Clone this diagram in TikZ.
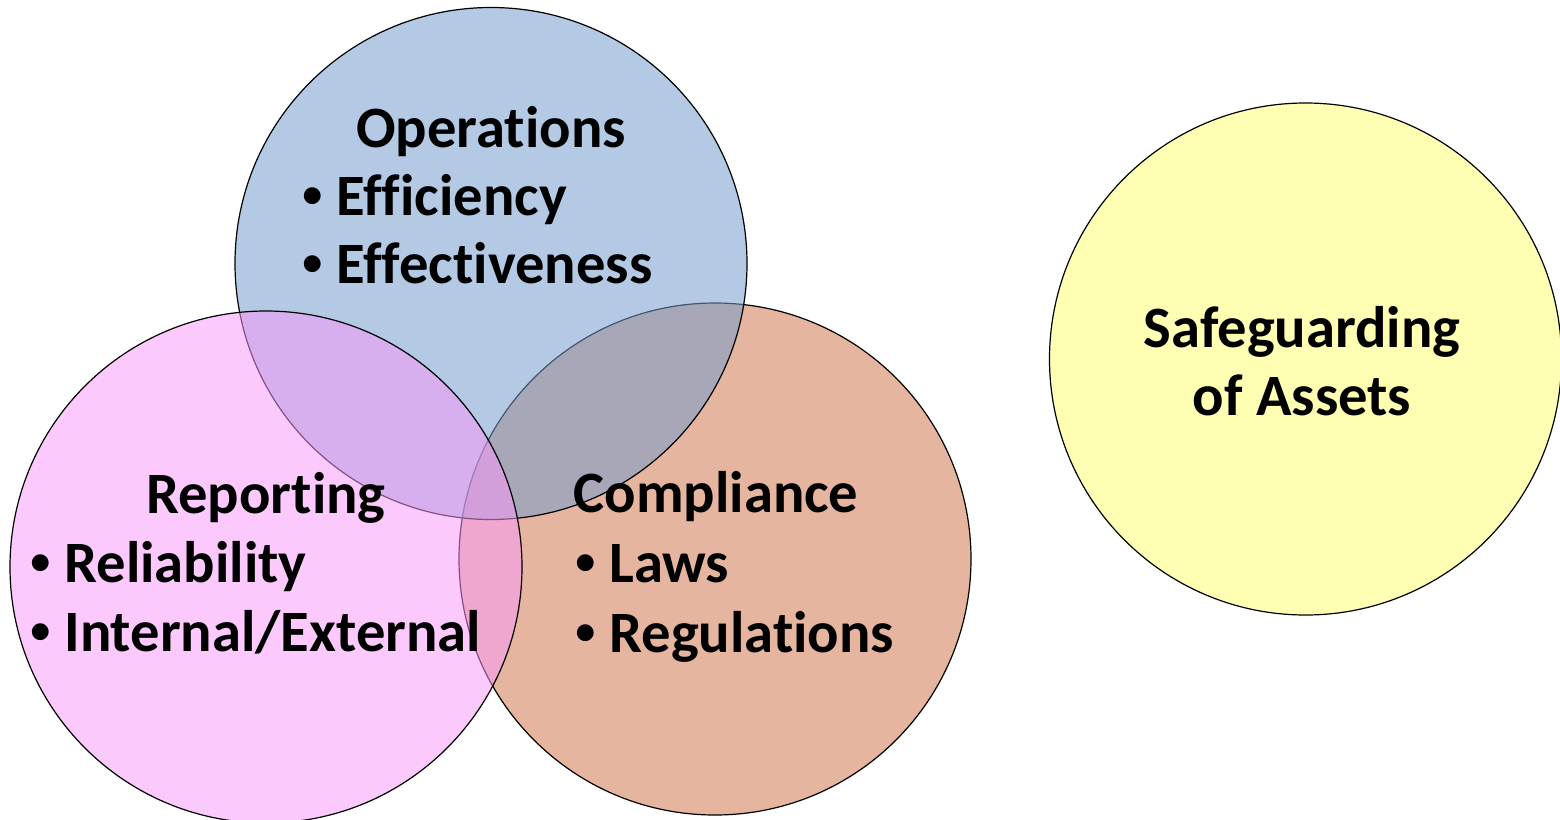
\documentclass[tikz,border=0pt]{standalone}
\usepackage{fontspec}
\setmainfont{Carlito}[Ligatures=NoCommon]
\newfontfamily\bulletfont{Liberation Sans}
\begin{document}
% one unit = one pixel of a 1560 x 820 canvas, y pointing down
\begin{tikzpicture}[x=0.5pt, y=-0.5pt,
  ring/.style={circle, draw=black, line width=0.6pt, minimum size=256pt, inner sep=0pt, fill opacity=0.53},
  title/.style={anchor=base, inner sep=0pt, font=\fontsize{29.3pt}{35pt}\selectfont\bfseries},
  item/.style={anchor=base west, inner sep=0pt, font=\fontsize{29.3pt}{35pt}\selectfont\bfseries}]
\useasboundingbox (0,0) rectangle (1560,820);
\definecolor{opsblue}{RGB}{119,157,204}
\definecolor{reppink}{RGB}{249,153,249}
\definecolor{compsalmon}{RGB}{229,181,160}
\definecolor{safeyellow}{RGB}{255,255,179}
\newcommand\bul{\makebox[17pt][l]{\bulletfont •}}

% circles, bottom to top
\node[ring, fill=compsalmon, fill opacity=1] (comp) at (715,559) {};
\node[ring, fill=opsblue, fill opacity=0.55] (ops) at (491,263.5) {};
\node[ring, fill=reppink] (rep) at (266,567) {};
\node[ring, fill=safeyellow, fill opacity=1] (safe) at (1305.5,359) {};

% Operations
\node[title] (opsT) at (491,147) {Operations};
\node[item] (ops1) at (302,215) {\bul Efficiency};
\node[item] (ops2) at (302,283) {\bul Effectiveness};

% Reporting
\node[title] (repT) at (266,513) {Reporting};
\node[item] (rep1) at (30,582) {\bul Reliability};
\node[item] (rep2) at (30,651) {\bul Internal/External};

% Compliance
\node[title] (compT) at (716,512) {Compliance};
\node[item] (comp1) at (575,582) {\bul Laws};
\node[item] (comp2) at (575,652) {\bul Regulations};

% Safeguarding of Assets
\node[title] (safeT1) at (1302,347) {Safeguarding};
\node[title] (safeT2) at (1302,415) {of Assets};
\end{tikzpicture}
\end{document}
